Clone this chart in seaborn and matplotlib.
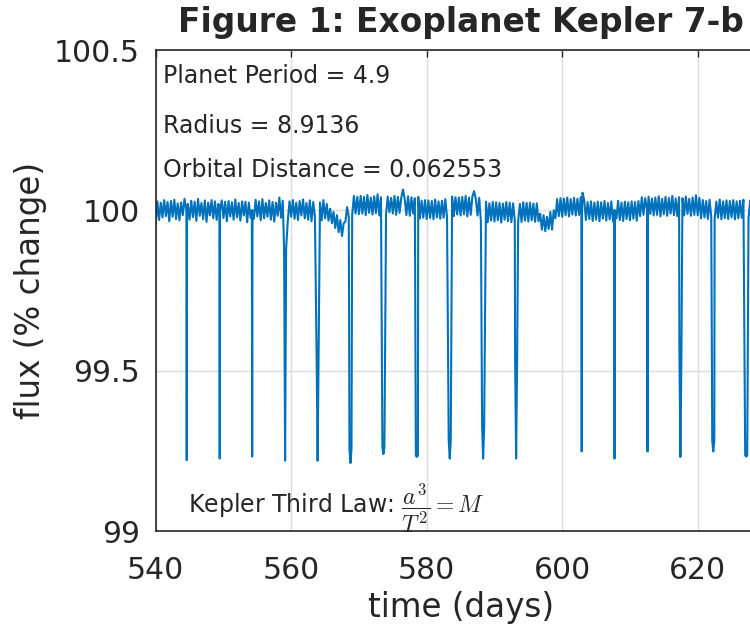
import numpy as np
import pandas as pd
import matplotlib
matplotlib.use("Agg")
import matplotlib.pyplot as plt
import seaborn as sns

# out-of-transit flux, one reading every 0.25 days from day 540,
# as offsets from 100 % in units of 0.001 %
start_day = 540.0
cadence = 0.25
baseline_offset = [
    -40, 28, -30, 24, -22, 32, -18, 26, -34, 29, -20, 33, -27, 22, -31, 25, -15, 36, -25, 20,
    -29, 30, -21, 27, -33, 36, -17, 23, -28, 31, -36, 24, -16, 32, -25, 28, -30, 20, -19, 31,
    -24, 27, -34, 29, -19, 25, -29, 34, -22, 23, -32, 28, -16, 27, -37, 24, -23, 30, -26, 33,
    -19, 28, -31, 35, -25, 23, -20, 31, -29, 26, -35, 24, -17, 40, -23, 30, -26, 21, -32, 28,
    -20, 32, -26, 24, -30, 29, -16, 34, -25, 23, -29, 31, -34, 26, -19, 30, -23, 25, -31, 32,
    -25, 20, -32, 5, -40, -5, -55, -15, -68, -30, -80, -40, -35, 10, -20, 35, -15, 45, -10, 42,
    -12, 45, -10, 42, -15, 48, -8, 40, -13, 44, -9, 50, -16, 41, -11, 47, -13, 43, -6, 39,
    -10, 45, -14, 42, -8, 40, 65, 36, -15, 44, -17, 41, -10, 38, -16, 42, -25, 30, -23, 32,
    -27, 31, -24, 29, -28, 34, -22, 28, -26, 30, -23, 35, -21, 27, -15, 43, -18, 41, -13, 40,
    -16, 42, -12, 45, -19, 40, -14, 44, 60, 36, -16, 39, -34, 24, -30, 27, -37, 22, -32, 26,
    -35, 25, -31, 23, -38, 21, -29, 26, -34, 24, -37, 22, -30, 27, -33, 20, -36, 25, -32, 23,
    -35, 24, -31, 21, -36, 22, -34, -10, -60, -15, -65, -20, -58, -5, -60, 0, -25, 35, -18, 38,
    -20, 37, -15, 40, -19, 35, -13, 39, -16, 36, -14, 41, 55, 32, -30, 26, -27, 28, -33, 24,
    -29, 27, -34, 25, -26, 29, -32, 23, -28, 28, -35, 26, -25, 30, -30, 24, -33, 27, -27, 25,
    -31, 28, -26, 26, -32, 29, -18, 41, -14, 38, -19, 43, -11, 37, -16, 40, -14, 44, -19, 36,
    -12, 42, -17, 39, -10, 45, -15, 37, -18, 41, -13, 38, -16, 43, -11, 36, -17, 40, -14, 47,
    -15, 39, -25, 32, -22, 29, -27, 33, -21, 30, -26, 27, -23, 34, -28, 28, -24, 31, -27, 29,
    -22, 32, -28, 28, -25, 30, -23, 33, -29, 27, -24, 31, -26, 29, -22, 34, -27, 28, -25, 30,
    -21,
]

# transits: centre time, lowest flux, and the flux where the dense part of the dip ends
transit_time = [544.58, 549.45, 554.24, 559.10, 563.90, 568.75, 573.61, 578.55, 583.40,
                588.33, 593.20, 602.88, 607.73, 612.59, 617.45, 622.30, 627.16]
transit_bottom = [99.221, 99.226, 99.232, 99.219, 99.219, 99.212, 99.240, 99.231, 99.226,
                  99.226, 99.226, 99.248, 99.226, 99.248, 99.231, 99.248, 99.232]
transit_shoulder = [100.0, 100.0, 100.0, 99.88, 99.55, 99.255, 99.262, 99.235, 99.283,
                    99.323, 99.54, 100.0, 100.0, 100.0, 99.56, 99.281, 99.236]

x_ticks = [540, 560, 580, 600, 620]
y_ticks = [99, 99.5, 100, 100.5]
y_tick_labels = ["99", "99.5", "100", "100.5"]

# build the light curve
t_base = start_day + cadence * np.arange(len(baseline_offset))
f_base = 100 + np.array(baseline_offset) / 1000.0
half = [0.05 if s >= 99.99 else 0.15 for s in transit_shoulder]
keep = np.ones(len(t_base), dtype=bool)
for tc, w in zip(transit_time, half):
    keep &= np.abs(t_base - tc) > w + 0.05
times = list(t_base[keep])
flux = list(f_base[keep])
for tc, fb, fs, w in zip(transit_time, transit_bottom, transit_shoulder, half):
    times += [tc - w, tc, tc + w]
    flux += [fs, fb, fs]
curve = pd.DataFrame({"time": times, "flux": flux}).sort_values("time")

sns.set_style("white")
plt.rcParams["font.family"] = ["DejaVu Sans"]
plt.rcParams["mathtext.fontset"] = "cm"

fig = plt.figure(figsize=(7.5, 6.27), dpi=100)
ax = fig.add_axes([0.2076, 0.1531, 0.813, 0.7671])

sns.lineplot(data=curve, x="time", y="flux", estimator=None, sort=False,
             color="#0072BD", linewidth=1.5, ax=ax)

ax.set_xlim(540, 630)
ax.set_ylim(99, 100.5)
ax.set_xticks(x_ticks)
ax.set_yticks(y_ticks)
ax.set_yticklabels(y_tick_labels)
ax.grid(True, color="#dcdcdc", linewidth=1.0)
ax.tick_params(direction="in", length=5, width=1, colors="#262626",
               labelsize=21.5, top=True, right=True, pad=11.5)
ax.tick_params(axis="x", pad=18)
for s in ax.spines.values():
    s.set_color("#262626")
    s.set_linewidth(1.2)

ax.set_xlabel("time (days)", fontsize=23.5, color="#262626", labelpad=4)
ax.set_ylabel("flux (% change)", fontsize=23.5, color="#262626", labelpad=5)
ax.set_title("Figure 1: Exoplanet Kepler 7-b", fontsize=23.7, fontweight="bold", pad=13)

ax.text(0.012, 0.946, "Planet Period = 4.9", transform=ax.transAxes,
        fontsize=17, va="center")
ax.text(0.012, 0.842, "Radius = 8.9136", transform=ax.transAxes,
        fontsize=17, va="center")
ax.text(0.012, 0.751, "Orbital Distance = 0.062553", transform=ax.transAxes,
        fontsize=17, va="center")
ax.text(0.053, 0.048, r"Kepler Third Law: $\dfrac{a^3}{T^2} = M$", transform=ax.transAxes,
        fontsize=17, va="center")

fig.savefig("out.png", dpi=100)
